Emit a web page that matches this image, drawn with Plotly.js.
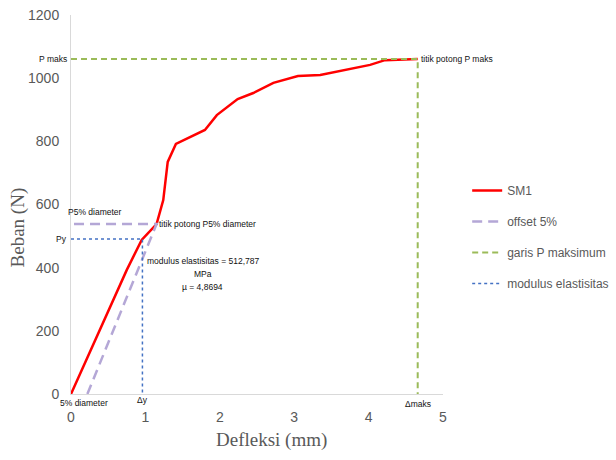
<!DOCTYPE html>
<html><head><meta charset="utf-8">
<script src="https://cdn.plot.ly/plotly-3.0.1.min.js"></script>
<style>body{margin:0;background:#fff}#c{width:616px;height:460px}</style>
</head><body><div id="c"></div>
<script>
var defleksi = [0, 0.55, 0.75, 0.95, 1.15, 1.24, 1.30, 1.41, 1.80, 1.96, 2.24, 2.45, 2.72, 3.05, 3.35, 4.02, 4.22, 4.66];
var beban    = [0, 292, 393, 488, 538, 614, 735, 792, 836, 883, 934, 953, 985, 1007, 1010, 1042, 1057, 1061];
var offsetX = [0.22, 1.15, 0];
var offsetY = [0, 538, 538];
var pmaksX = [0, 4.66, 4.66];
var pmaksY = [1061, 1061, 0];
var modulusX = [0, 0.96, 0.96];
var modulusY = [491, 491, 0];
var seriesNames = ["SM1", "offset 5%", "garis P maksimum", "modulus elastisitas"];
var xTicks = [0, 1, 2, 3, 4, 5];
var yTicks = [0, 200, 400, 600, 800, 1000, 1200];

var F = "Liberation Sans, Arial, sans-serif";
var traces = [
  {x: defleksi, y: beban, name: seriesNames[0], mode: "lines", legendgroup: "a",
   line: {color: "#ff0000", width: 2.5}},
  {x: offsetX, y: offsetY, name: seriesNames[1], mode: "lines", legendgroup: "b",
   line: {color: "#b4a7d6", width: 2.5, dash: "10px,6px"}},
  {x: pmaksX, y: pmaksY, name: seriesNames[2], mode: "lines", legendgroup: "c",
   line: {color: "#9bbb59", width: 2, dash: "6px,4px"}},
  {x: modulusX, y: modulusY, name: seriesNames[3], mode: "lines", legendgroup: "d",
   line: {color: "#4472c4", width: 1.5, dash: "dot"}}
];
var bf = {family: F, size: 8.5, color: "#111"};
function ann(x, y, t, xa, xr, yr) {
  return {x: x, y: y, xref: xr || "x", yref: yr || "y", text: t, showarrow: false, font: bf,
          xanchor: xa || "center", yanchor: "middle"};
}
var layout = {
  width: 616, height: 460,
  margin: {l: 71, r: 173, t: 15, b: 66, autoexpand: false},
  paper_bgcolor: "#fff", plot_bgcolor: "#fff",
  showlegend: true,
  legend: {x: 1.065, y: 0.575, xanchor: "left", yanchor: "top", traceorder: "grouped", tracegroupgap: 12,
           font: {family: F, size: 12, color: "#595959"}, bgcolor: "rgba(0,0,0,0)"},
  xaxis: {range: [0, 5], tickvals: xTicks, showgrid: false, zeroline: false, showline: true,
          linecolor: "#d9d9d9", linewidth: 1, ticks: "", ticklabelstandoff: 10,
          tickfont: {family: F, size: 14, color: "#595959"}},
  yaxis: {range: [0, 1200], tickvals: yTicks, showgrid: false, zeroline: false, showline: true,
          linecolor: "#d9d9d9", linewidth: 1, ticks: "", ticklabelstandoff: 8,
          tickfont: {family: F, size: 14, color: "#595959"}},
  annotations: [
    {xref: "paper", yref: "paper", x: -0.142, y: 0.44, xanchor: "center", yanchor: "middle",
     text: "Beban (N)", textangle: -90, showarrow: false,
     font: {family: "Liberation Serif, Times New Roman, serif", size: 19, color: "#595959"}},
    {xref: "paper", yref: "paper", x: 0.54, y: -0.122, xanchor: "center", yanchor: "middle",
     text: "Defleksi (mm)", showarrow: false,
     font: {family: "Liberation Serif, Times New Roman, serif", size: 19, color: "#595959"}},
    ann(-0.006, 1061, "P maks", "right", "paper", "y"),
    ann(4.68, 1061, "titik potong P maks", "left"),
    ann(0.32, 575, "P5% diameter", "center"),
    ann(1.16, 538, "titik potong P5% diameter", "left"),
    ann(-0.006, 491, "Py", "right", "paper", "y"),
    ann(0.18, -0.024, "5% diameter", "center", "x", "paper"),
    ann(0.96, -0.016, "Δy", "center", "x", "paper"),
    ann(4.66, -0.026, "Δmaks", "center", "x", "paper"),
    ann(1.77, 420, "modulus elastisitas = 512,787", "center"),
    ann(1.77, 380, "MPa", "center"),
    ann(1.77, 338, "µ = 4,8694", "center")
  ]
};
Plotly.newPlot("c", traces, layout, {displayModeBar: false, staticPlot: true});
</script></body></html>
